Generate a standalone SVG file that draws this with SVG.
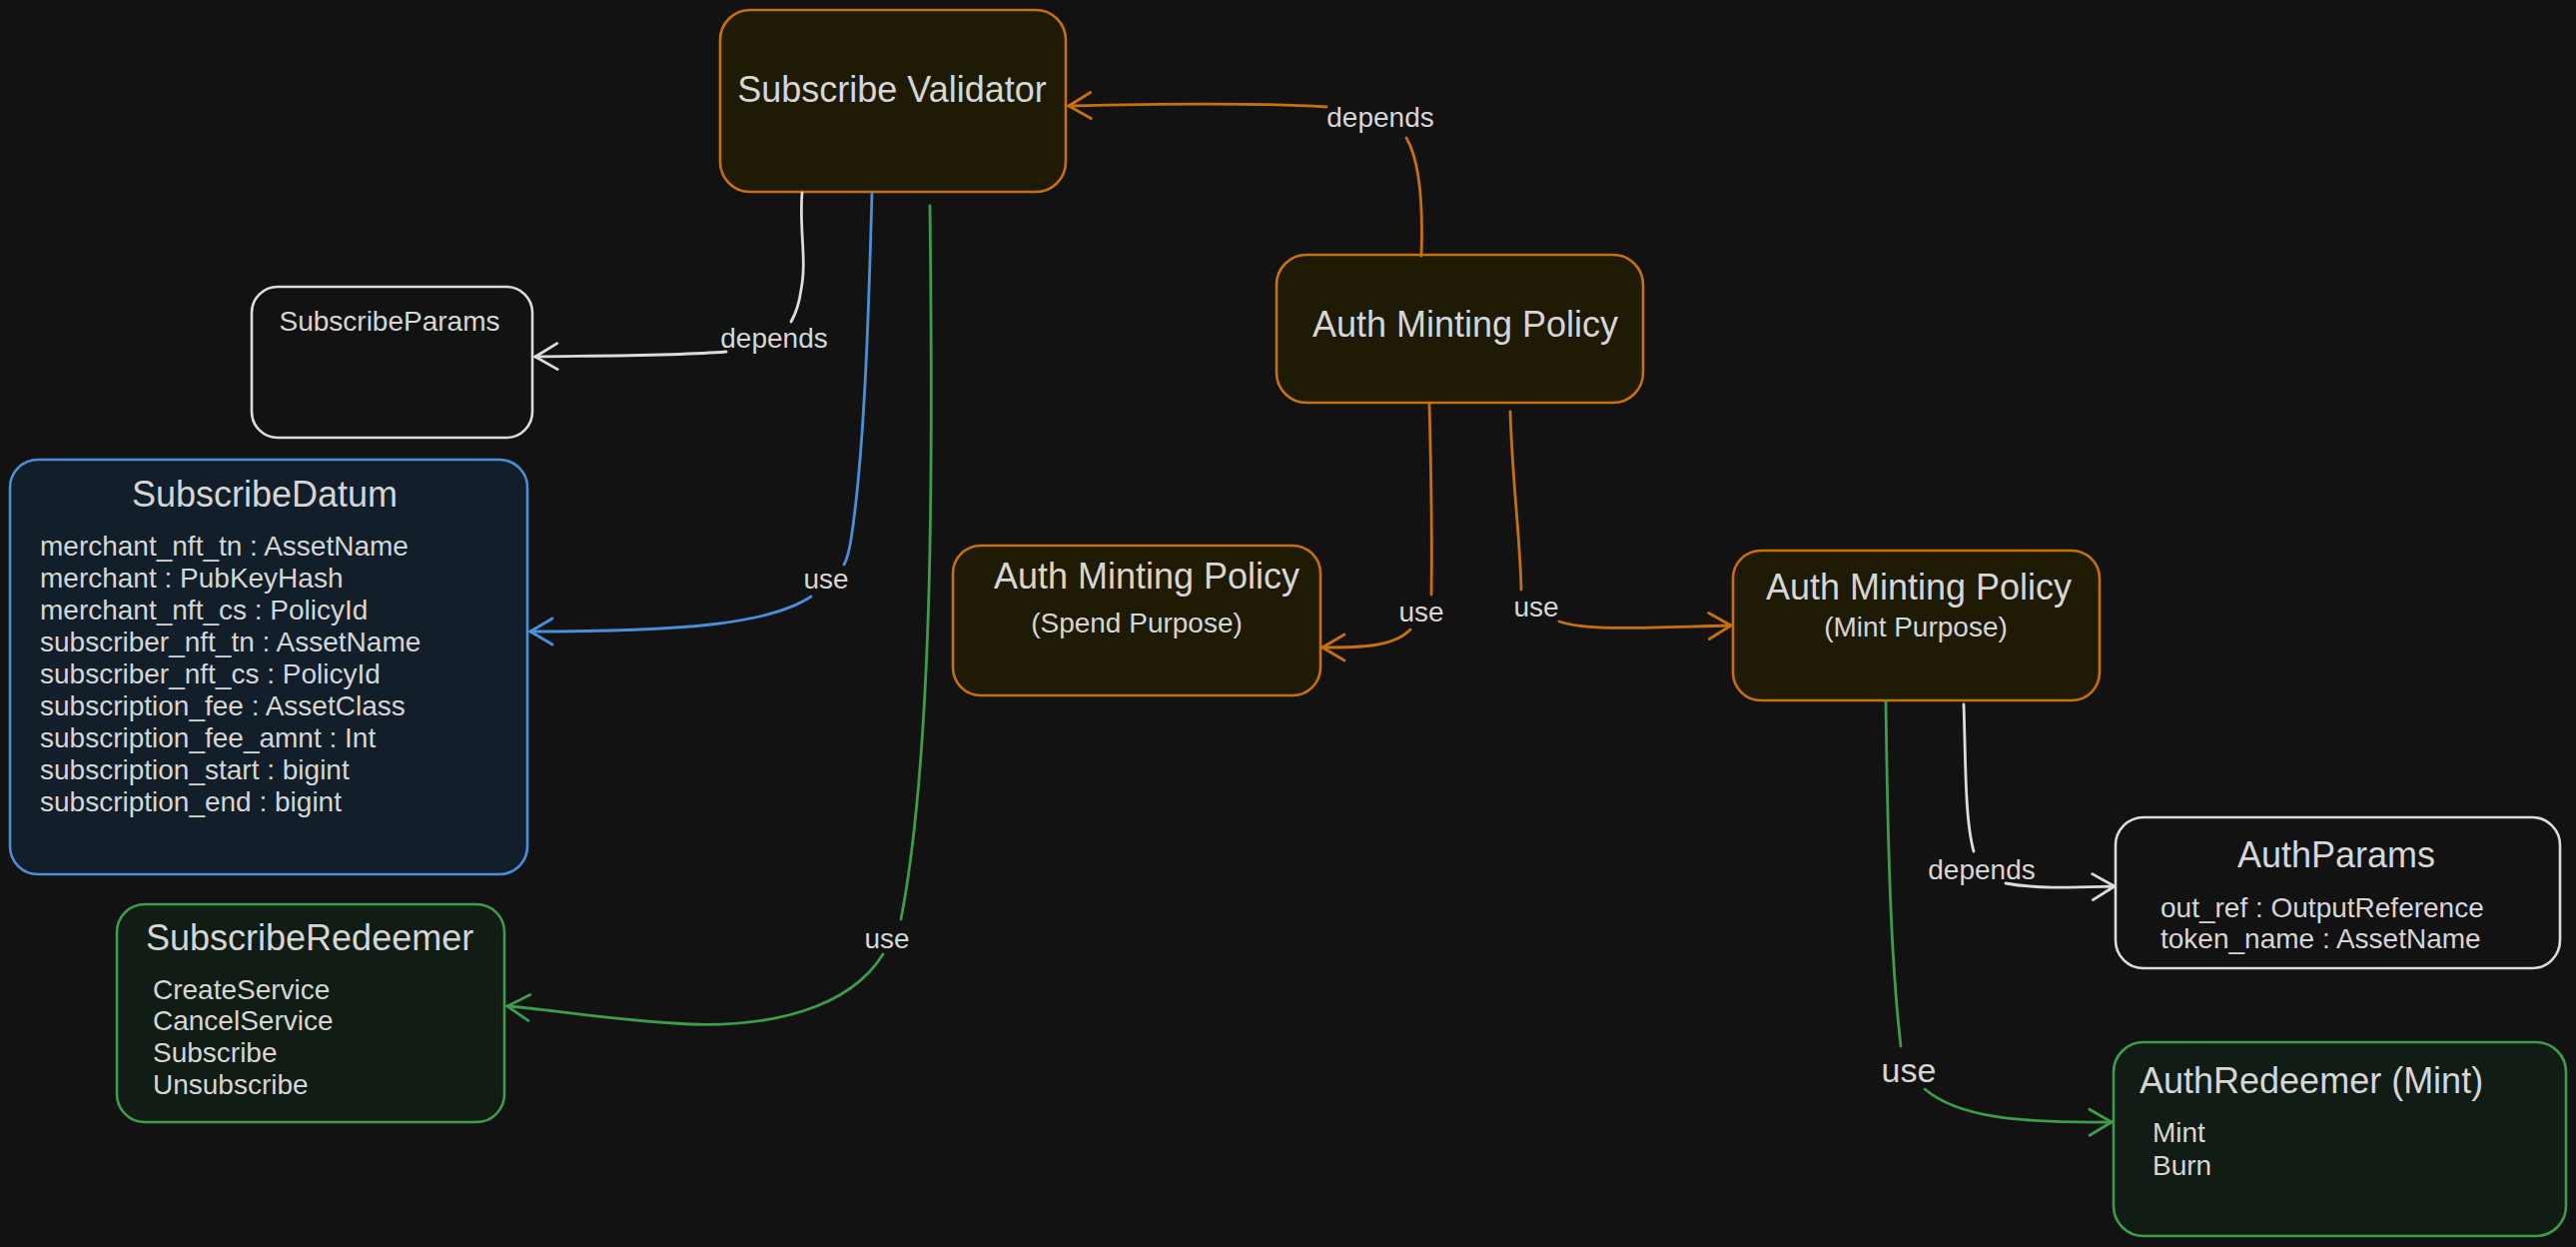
<svg xmlns="http://www.w3.org/2000/svg" width="2579" height="1248" viewBox="0 0 2579 1248">
<style>
text{font-family:"Liberation Sans",Arial,sans-serif;fill:#d6d6d6}
.t{font-size:36px}
.s{font-size:28px}
.lbl{font-size:28px;text-anchor:middle}
.or{fill:#1f1a04;stroke:#c8700e;stroke-width:2.6}
.wh{fill:#121212;stroke:#dcdcdc;stroke-width:2.6}
.bl{fill:#121e29;stroke:#4a90d9;stroke-width:2.6}
.gr{fill:#111d14;stroke:#3c9d4a;stroke-width:2.6}
.c{fill:none;stroke-width:2.8;stroke-linecap:round}
.co{stroke:#c8700e}.cw{stroke:#dcdcdc}.cb{stroke:#4a90d9}.cg{stroke:#3c9d4a}
</style>
<defs>
<marker id="ao" viewBox="0 0 26 30" refX="24" refY="15" markerWidth="26" markerHeight="30" orient="auto" markerUnits="userSpaceOnUse"><path d="M2,2 L24,15 L2,28" fill="none" stroke="#c8700e" stroke-width="2.8" stroke-linecap="round"/></marker>
<marker id="aw" viewBox="0 0 26 30" refX="24" refY="15" markerWidth="26" markerHeight="30" orient="auto" markerUnits="userSpaceOnUse"><path d="M2,2 L24,15 L2,28" fill="none" stroke="#dcdcdc" stroke-width="2.8" stroke-linecap="round"/></marker>
<marker id="ab" viewBox="0 0 26 30" refX="24" refY="15" markerWidth="26" markerHeight="30" orient="auto" markerUnits="userSpaceOnUse"><path d="M2,2 L24,15 L2,28" fill="none" stroke="#4a90d9" stroke-width="2.8" stroke-linecap="round"/></marker>
<marker id="ag" viewBox="0 0 26 30" refX="24" refY="15" markerWidth="26" markerHeight="30" orient="auto" markerUnits="userSpaceOnUse"><path d="M2,2 L24,15 L2,28" fill="none" stroke="#3c9d4a" stroke-width="2.8" stroke-linecap="round"/></marker>
</defs>
<rect width="2579" height="1248" fill="#121212"/>

<g id="subscribe-validator">
<rect class="or" x="721" y="10" width="346" height="182" rx="30"/>
<text class="t" x="893" y="102" text-anchor="middle">Subscribe Validator</text>
</g>
<g id="subscribe-params">
<rect class="wh" x="252" y="287" width="281" height="151" rx="26"/>
<text class="s" x="390" y="331" text-anchor="middle">SubscribeParams</text>
</g>
<g id="subscribe-datum">
<rect class="bl" x="10" y="460" width="518" height="415" rx="28"/>
<text class="t" x="265" y="507" text-anchor="middle">SubscribeDatum</text>
<text class="s" x="40" y="556">merchant_nft_tn : AssetName</text>
<text class="s" x="40" y="588">merchant : PubKeyHash</text>
<text class="s" x="40" y="620">merchant_nft_cs : PolicyId</text>
<text class="s" x="40" y="652">subscriber_nft_tn : AssetName</text>
<text class="s" x="40" y="684">subscriber_nft_cs : PolicyId</text>
<text class="s" x="40" y="716">subscription_fee : AssetClass</text>
<text class="s" x="40" y="748">subscription_fee_amnt : Int</text>
<text class="s" x="40" y="780">subscription_start : bigint</text>
<text class="s" x="40" y="812">subscription_end : bigint</text>
</g>
<g id="subscribe-redeemer">
<rect class="gr" x="117" y="905" width="388" height="218" rx="28"/>
<text class="t" x="146" y="951">SubscribeRedeemer</text>
<text class="s" x="153" y="1000">CreateService</text>
<text class="s" x="153" y="1031">CancelService</text>
<text class="s" x="153" y="1063">Subscribe</text>
<text class="s" x="153" y="1095">Unsubscribe</text>
</g>
<g id="auth-minting-policy">
<rect class="or" x="1278" y="255" width="367" height="148" rx="30"/>
<text class="t" x="1467" y="337" text-anchor="middle">Auth Minting Policy</text>
</g>
<g id="auth-spend">
<rect class="or" x="954" y="546" width="368" height="150" rx="28"/>
<text class="t" x="1148" y="589" text-anchor="middle">Auth Minting Policy</text>
<text class="s" x="1138" y="633" text-anchor="middle">(Spend Purpose)</text>
</g>
<g id="auth-mint">
<rect class="or" x="1735" y="551" width="367" height="150" rx="28"/>
<text class="t" x="1921" y="600" text-anchor="middle">Auth Minting Policy</text>
<text class="s" x="1918" y="637" text-anchor="middle">(Mint Purpose)</text>
</g>
<g id="auth-params">
<rect class="wh" x="2118" y="818" width="445" height="151" rx="28"/>
<text class="t" x="2339" y="868" text-anchor="middle">AuthParams</text>
<text class="s" x="2163" y="918">out_ref : OutputReference</text>
<text class="s" x="2163" y="949">token_name : AssetName</text>
</g>
<g id="auth-redeemer">
<rect class="gr" x="2116" y="1043" width="453" height="194" rx="30"/>
<text class="t" x="2142" y="1094">AuthRedeemer (Mint)</text>
<text class="s" x="2155" y="1143">Mint</text>
<text class="s" x="2155" y="1176">Burn</text>
</g>

<g id="connectors">
<path class="c co" d="M1423 256 C1425 200 1421 160 1408 138"/>
<path class="c co" d="M1328 107 C1250 102 1150 104 1070 106" marker-end="url(#ao)"/>
<text class="lbl" x="1382" y="127">depends</text>

<path class="c cw" d="M803 193 C800 230 808 260 802 290 C800 305 796 315 792 322"/>
<path class="c cw" d="M727 352 C680 356 600 356 536 357" marker-end="url(#aw)"/>
<text class="lbl" x="775" y="348">depends</text>

<path class="c cb" d="M873 193 C870 300 866 450 852 540 C850 552 848 560 845 565"/>
<path class="c cb" d="M812 597 C770 625 680 632 531 632" marker-end="url(#ab)"/>
<text class="lbl" x="827" y="589">use</text>

<path class="c cg" d="M931 206 C934 450 935 750 902 920"/>
<path class="c cg" d="M884 955 C850 1010 770 1028 690 1025 C600 1020 550 1010 508 1007" marker-end="url(#ag)"/>
<text class="lbl" x="888" y="949">use</text>

<path class="c co" d="M1431 404 C1433 480 1434 540 1433 595"/>
<path class="c co" d="M1412 630 C1395 648 1360 648 1324 648" marker-end="url(#ao)"/>
<text class="lbl" x="1423" y="622">use</text>

<path class="c co" d="M1512 412 C1514 480 1522 540 1523 590"/>
<path class="c co" d="M1561 622 C1590 632 1650 628 1733 626" marker-end="url(#ao)"/>
<text class="lbl" x="1538" y="617">use</text>

<path class="c cw" d="M1966 705 C1968 760 1967 820 1976 852"/>
<path class="c cw" d="M2008 884 C2040 890 2080 888 2117 887" marker-end="url(#aw)"/>
<text class="lbl" x="1984" y="880">depends</text>

<path class="c cg" d="M1888 702 C1890 850 1893 960 1903 1047"/>
<path class="c cg" d="M1927 1090 C1960 1118 2020 1124 2114 1123" marker-end="url(#ag)"/>
<text class="lbl" x="1911" y="1083" style="font-size:34px">use</text>
</g>
</svg>
